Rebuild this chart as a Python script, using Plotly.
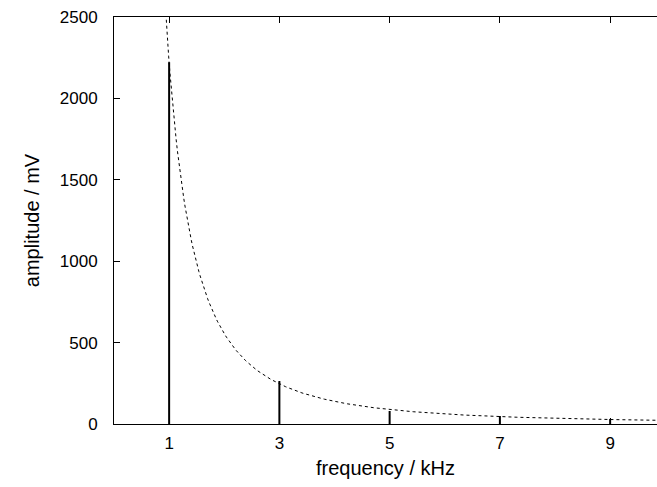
import numpy as np
import plotly.graph_objects as go

# harmonic frequencies (kHz) and measured amplitudes (mV)
freq = [1, 3, 5, 7, 9]
amp = [2222, 264, 80, 49, 31]
# theoretical envelope  A / f^2
fit_amp = 2220
x_ticks = [1, 3, 5, 7, 9]
y_ticks = [0, 500, 1000, 1500, 2000, 2500]

# impulses
ix, iy = [], []
for f, a in zip(freq, amp):
    ix += [f, f, None]
    iy += [0, a, None]

xf = np.linspace(0.9, 10, 400)
yf = fit_amp / xf**2

fig = go.Figure()
fig.add_trace(go.Scatter(x=xf, y=yf, mode="lines",
                         line=dict(color="black", width=1, dash="3px,3px"),
                         showlegend=False, hoverinfo="skip"))
fig.add_trace(go.Scatter(x=ix, y=iy, mode="lines",
                         line=dict(color="black", width=2),
                         showlegend=False))

font = dict(family="Liberation Sans, Arial, sans-serif", size=17, color="black")
fig.update_layout(
    width=657, height=487,
    margin=dict(l=114, r=0, t=17, b=63),
    plot_bgcolor="white", paper_bgcolor="white",
    font=font,
    xaxis=dict(range=[0, 9.85], tickvals=x_ticks, ticks="inside", ticklen=6,
               tickcolor="black", showline=True, linecolor="black", linewidth=1,
               mirror="ticks", showgrid=False, zeroline=False,
               title=dict(text="frequency / kHz", standoff=8), ticklabelstandoff=4),
    yaxis=dict(range=[0, 2500], tickvals=y_ticks, ticks="inside", ticklen=6,
               tickcolor="black", showline=True, linecolor="black", linewidth=1,
               showgrid=False, zeroline=False,
               title=dict(text="amplitude / mV", standoff=14), ticklabelstandoff=12),
)
fig.write_html("out.html")
